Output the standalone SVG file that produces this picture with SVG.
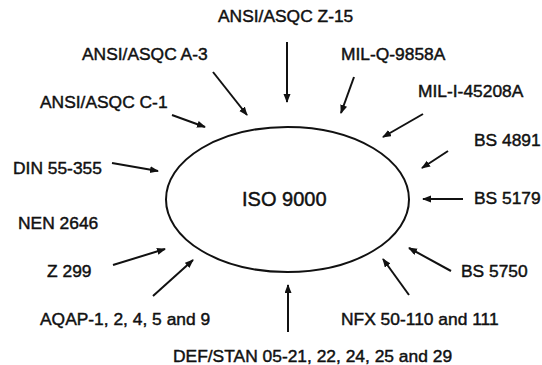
<svg xmlns="http://www.w3.org/2000/svg" width="542" height="365" viewBox="0 0 542 365">
<style>
text{font-family:"Liberation Sans",Arial,sans-serif;font-size:17.4px;fill:#111;stroke:#111;stroke-width:0.45;}
.big{font-size:20px;}
#connectors line{stroke:#111;stroke-width:2;marker-end:url(#ah);}
</style>
<defs>
<marker id="ah" markerWidth="10" markerHeight="8" refX="8" refY="3.5" orient="auto" markerUnits="userSpaceOnUse">
<path d="M0,0 L9,3.5 L0,7 Z" fill="#111"/>
</marker>
</defs>
<rect width="542" height="365" fill="#fff"/>
<g id="iso9000">
<ellipse cx="287.5" cy="199.5" rx="121.5" ry="72.5" fill="none" stroke="#111" stroke-width="2"/>
<text class="big" x="242" y="206">ISO 9000</text>
</g>
<g id="z15"><text x="218" y="22">ANSI/ASQC Z-15</text></g>
<g id="a3"><text x="82" y="60">ANSI/ASQC A-3</text></g>
<g id="c1"><text x="40" y="108">ANSI/ASQC C-1</text></g>
<g id="din"><text x="13" y="174">DIN 55-355</text></g>
<g id="nen"><text x="18" y="229">NEN 2646</text></g>
<g id="z299"><text x="47" y="277">Z 299</text></g>
<g id="aqap"><text x="40" y="325">AQAP-1, 2, 4, 5 and 9</text></g>
<g id="defstan"><text x="173" y="362">DEF/STAN 05-21, 22, 24, 25 and 29</text></g>
<g id="nfx"><text x="341" y="325">NFX 50-110 and 111</text></g>
<g id="bs5750"><text x="461" y="277">BS 5750</text></g>
<g id="bs5179"><text x="474" y="204">BS 5179</text></g>
<g id="bs4891"><text x="474" y="146">BS 4891</text></g>
<g id="mili"><text x="418" y="97">MIL-I-45208A</text></g>
<g id="milq"><text x="341" y="60">MIL-Q-9858A</text></g>
<g id="connectors">
<line x1="287" y1="42" x2="287" y2="102"/>
<line x1="213" y1="72" x2="247" y2="115"/>
<line x1="172" y1="115" x2="205" y2="127"/>
<line x1="112" y1="163" x2="158" y2="171"/>
<line x1="113" y1="265" x2="165" y2="249"/>
<line x1="153" y1="296" x2="193" y2="260"/>
<line x1="288" y1="332" x2="288" y2="285"/>
<line x1="409" y1="295" x2="383" y2="259"/>
<line x1="451" y1="271" x2="409" y2="248"/>
<line x1="463" y1="199" x2="423" y2="199"/>
<line x1="448" y1="151" x2="422" y2="168"/>
<line x1="423" y1="114" x2="383" y2="137"/>
<line x1="354" y1="77" x2="341" y2="113"/>
</g>
</svg>
